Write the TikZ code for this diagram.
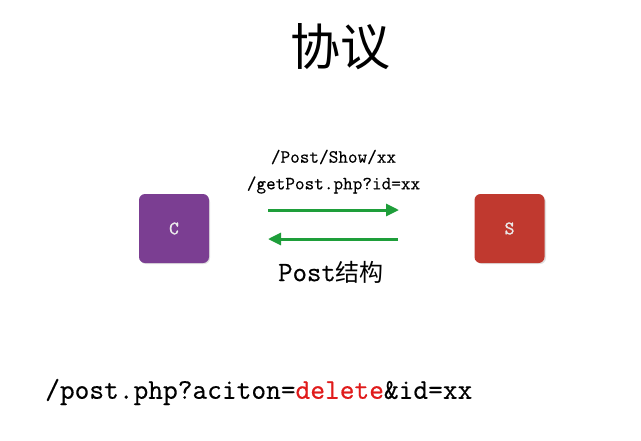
\documentclass[tikz,border=0pt]{standalone}
\usepackage{fontspec}
\newfontfamily\cour[FakeBold=0.45]{Latin Modern Mono}
\newfontfamily\courb[FakeBold=1.2]{Latin Modern Mono}
\newfontfamily\cjk{Noto Sans CJK SC}
\usetikzlibrary{arrows.meta}
\definecolor{cpurple}{HTML}{7B3E92}
\definecolor{sred}{HTML}{C0392F}
\definecolor{agreen}{HTML}{1E9E3A}
\definecolor{dred}{HTML}{E01B1B}
\tikzset{
  box/.style={rounded corners=6pt, minimum width=70pt, minimum height=69pt, inner sep=0pt, text=white!92!black, font=\courb\fontsize{19}{19}\selectfont},
  proto/.style={font=\cour\fontsize{18.7}{18}\selectfont, inner sep=0pt},
  flow/.style={draw=agreen, line width=3pt, -{Triangle[length=13pt,width=12pt]}},
}
\begin{document}
\begin{tikzpicture}[x=1pt,y=-1pt]
\useasboundingbox (0,0) rectangle (641,440);
\node[font=\cjk\fontsize{50}{50}\selectfont, inner sep=0pt] (title) at (340,47) {协议};
\fill[black!12, rounded corners=6pt] (140,196) rectangle (210,264);
\fill[black!12, rounded corners=6pt] (476,196) rectangle (546,264);
\node[box, fill=cpurple] (c) at (174,228.5) {C};
\node[box, fill=sred] (s) at (509.5,228.5) {S};
\node[proto] (p1) at (333.5,157) {/Post/Show/xx};
\node[proto] (p2) at (333.5,185) {/getPost.php?id=xx};
\node[inner sep=0pt] (p3) at (331,272) {{\cour\fontsize{28}{28}\selectfont Post}{\cjk\fontsize{24}{24}\selectfont 结构}};
\coordinate (r1) at (268,210);
\coordinate (r2) at (399,210);
\coordinate (l1) at (398,239);
\coordinate (l2) at (268,239);
\draw[flow] (r1) -- (r2);
\draw[flow] (l1) -- (l2);
\node[font=\cour\fontsize{28.6}{28}\selectfont, inner sep=0pt, anchor=west] (url) at (45,392) {/post.php?aciton=\textcolor{dred}{delete}\&id=xx};
\end{tikzpicture}
\end{document}
